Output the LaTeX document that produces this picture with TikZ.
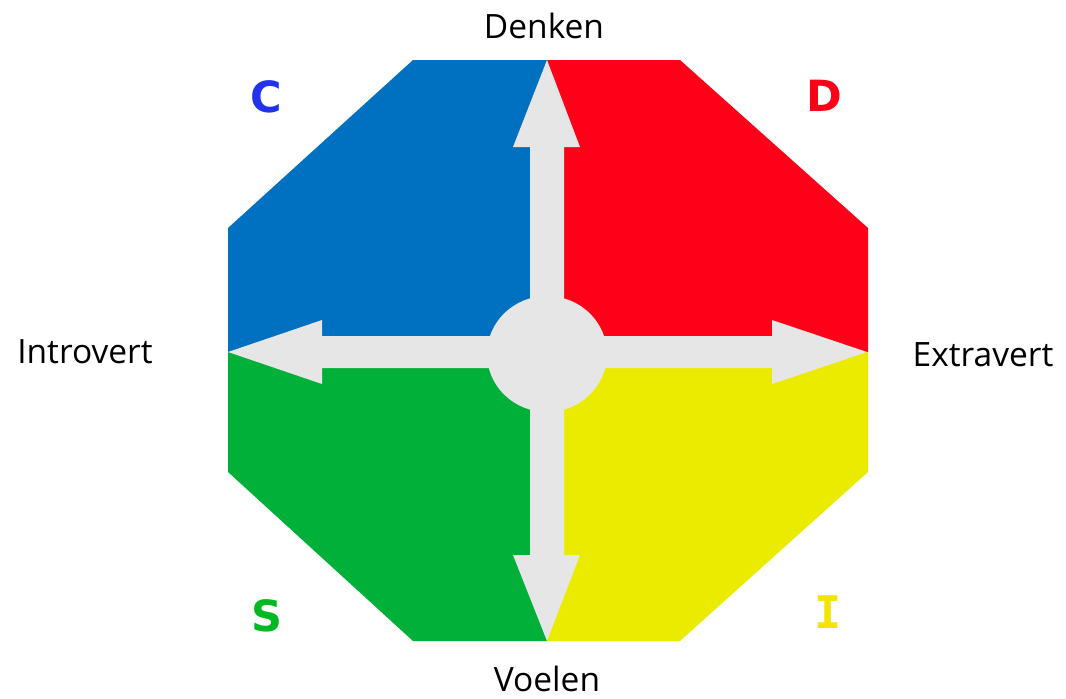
\documentclass[tikz,border=0pt]{standalone}
\usepackage{fontspec}
\setmainfont{Open Sans}
\newfontfamily\letterfont{DejaVu Sans}
\newfontfamily\letterfontmono{DejaVu Sans Mono}
\definecolor{qblue}{HTML}{0070C0}
\definecolor{qred}{HTML}{FF0019}
\definecolor{qyellow}{HTML}{EBEB00}
\definecolor{qgreen}{HTML}{00B038}
\definecolor{agray}{HTML}{E6E6E6}
\definecolor{lblue}{HTML}{2233EE}
\definecolor{lred}{HTML}{FF0019}
\definecolor{lgreen}{HTML}{00B821}
\definecolor{lyellow}{HTML}{F5E400}
\begin{document}
\begin{tikzpicture}[x=1pt,y=-1pt,
  axislabel/.style={font=\fontsize{33.5}{36}\selectfont, text=black, inner sep=0pt},
  quadletter/.style={font=\letterfont\bfseries\fontsize{43}{45}\selectfont, inner sep=0pt}]
\useasboundingbox (0,0) rectangle (1066,699);
% quadrants
\fill[qblue] (228,352) -- (228,228) -- (413,60) -- (547,60) -- (547,352) -- cycle;
\fill[qred] (547,60) -- (680,60) -- (868,228) -- (868,352) -- (547,352) -- cycle;
\fill[qyellow] (547,352) -- (868,352) -- (868,472) -- (680,641) -- (547,641) -- cycle;
\fill[qgreen] (547,352) -- (547,641) -- (413,641) -- (228,472) -- (228,352) -- cycle;
% arrows
\fill[agray]
  (547,60) -- (580,147) -- (564,147) -- (564,336)
  -- (772,336) -- (772,320) -- (867,352) -- (772,384) -- (772,368)
  -- (564,368) -- (564,555) -- (580,555) -- (547,641) -- (513,555) -- (530,555)
  -- (530,368) -- (322,368) -- (322,384) -- (228,352) -- (322,320) -- (322,336)
  -- (530,336) -- (530,147) -- (513,147) -- cycle;
\fill[agray] (547,354) ellipse [x radius=60, y radius=58];
% labels
\node[axislabel] (denken) at (544,26) {Denken};
\node[axislabel] (voelen) at (547,679) {Voelen};
\node[axislabel] (intro) at (85,352) {Introvert};
\node[axislabel] (extra) at (983,355) {Extravert};
\node[quadletter, text=lblue] (c) at (266,97) {C};
\node[quadletter, text=lred] (d) at (824,96) {D};
\node[quadletter, text=lgreen] (s) at (267,616) {S};
\node[quadletter, font=\letterfontmono\bfseries\fontsize{45}{47}\selectfont, text=lyellow] (i) at (828,612) {I};
\end{tikzpicture}
\end{document}
